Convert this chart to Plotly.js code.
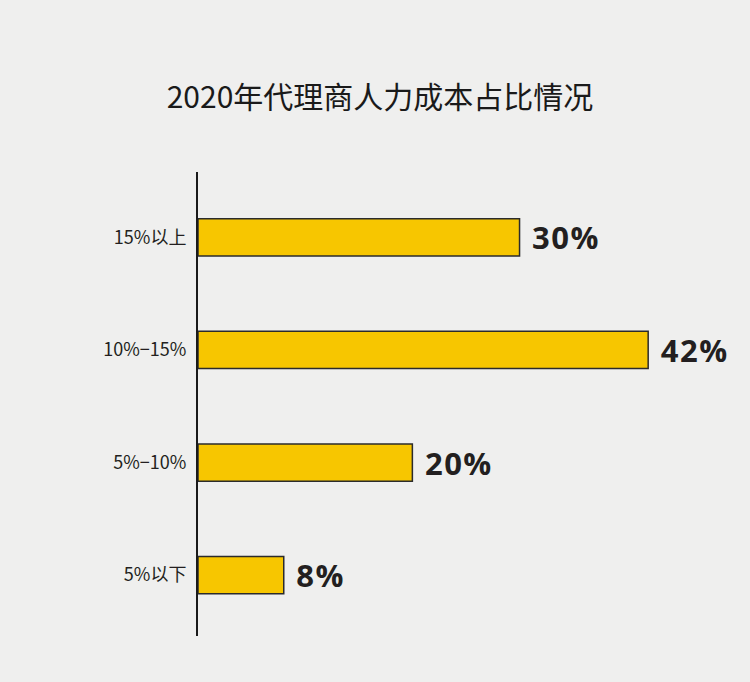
<!DOCTYPE html>
<html>
<head>
<meta charset="utf-8">
<script src="https://cdn.plot.ly/plotly-3.0.1.min.js"></script>
<style>html,body{margin:0;padding:0;background:#efefee;}
.bartext text, text.bartext{letter-spacing:1.5px;}</style>
</head>
<body>
<div id="chart" style="width:750px;height:682px;"></div>
<script>
const categories = ["5%以下", "5%−10%", "10%−15%", "15%以上"];
const values = [8, 20, 42, 30];
const valueLabels = ["8%", "20%", "42%", "30%"];
const chartTitle = "2020年代理商人力成本占比情况";

const trace = {
  type: "bar",
  orientation: "h",
  y: categories,
  x: values,
  width: 0.33,
  marker: {color: "#f7c600", line: {color: "#2b2b2b", width: 1.5}},
  text: valueLabels,
  texttemplate: " %{text}",
  textposition: "outside",
  textfont: {family: "Open Sans, sans-serif", size: 31, color: "#231f20", weight: "bold"},
  cliponaxis: false,
  constraintext: "none",
  hoverinfo: "none"
};

const layout = {
  width: 750, height: 682,
  paper_bgcolor: "#efefee",
  plot_bgcolor: "#efefee",
  margin: {l: 198, r: 0, t: 172, b: 46},
  title: {
    text: chartTitle,
    font: {family: "Noto Sans CJK SC, sans-serif", size: 30, color: "#1a1a1a"},
    x: 380/750, xanchor: "center", xref: "container",
    y: 1 - 97/682, yanchor: "middle", yref: "container"
  },
  xaxis: {
    range: [0, 51.5],
    visible: false,
    showgrid: false, zeroline: false
  },
  yaxis: {
    type: "category",
    categoryorder: "array",
    categoryarray: categories,
    range: [-0.54, 3.58],
    showline: true, linecolor: "#1a1a1a", linewidth: 2,
    ticks: "", showgrid: false, zeroline: false,
    ticklabelstandoff: 6,
    tickfont: {family: "Noto Sans CJK SC, sans-serif", size: 18, color: "#231f20"}
  },
  showlegend: false
};

Plotly.newPlot("chart", [trace], layout, {staticPlot: true});
</script>
</body>
</html>
